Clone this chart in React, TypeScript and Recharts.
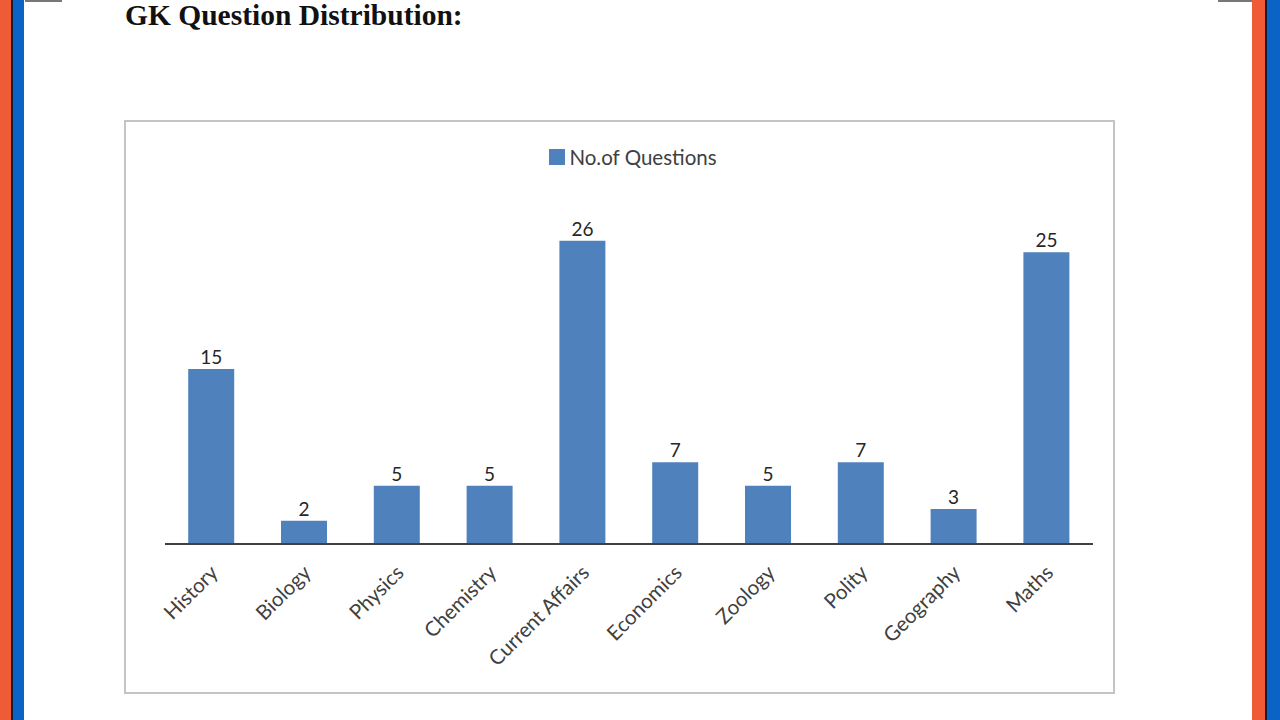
import React from "react";
import { BarChart, Bar, XAxis, YAxis, LabelList, Legend } from "recharts";

const subjects = [
  "History",
  "Biology",
  "Physics",
  "Chemistry",
  "Current Affairs",
  "Economics",
  "Zoology",
  "Polity",
  "Geography",
  "Maths",
];
const questionCounts = [15, 2, 5, 5, 26, 7, 5, 7, 3, 25];
const seriesName = "No.of Questions";
const pageTitle = "GK Question Distribution:";

const data = subjects.map((subject, i) => ({ subject, count: questionCounts[i] }));

const BAR_COLOR = "#4f81bd";
const TEXT_COLOR = "#404040";
const FONT = "Lato, 'Open Sans', sans-serif";

const ORANGE = "#ef5a37";
const BLUE = "#0b63c5";

function SlantedTick(props: any) {
  const { x, y, payload } = props;
  return (
    <g transform={`translate(${x + 3},${y + 17})`}>
      <text
        x={0}
        y={0}
        dy={7}
        textAnchor="end"
        transform="rotate(-45)"
        fill={TEXT_COLOR}
        fontSize={20.5}
        fontFamily={FONT}
      >
        {payload.value}
      </text>
    </g>
  );
}

function LegendContent() {
  return (
    <div
      style={{
        display: "flex",
        alignItems: "center",
        justifyContent: "center",
        fontFamily: FONT,
        fontSize: 20.5,
        color: TEXT_COLOR,
        height: 21,
      }}
    >
      <span
        style={{
          display: "inline-block",
          width: 16,
          height: 16,
          background: BAR_COLOR,
          marginRight: 4,
        }}
      />
      <span>{seriesName}</span>
    </div>
  );
}

export default function App() {
  return (
    <div
      style={{
        position: "absolute",
        left: 0,
        top: 0,
        width: 1280,
        height: 720,
        background: "#ffffff",
        overflow: "hidden",
      }}
    >
      {/* side stripes */}
      <div style={{ position: "absolute", left: 0, top: 0, width: 11, height: 720, background: ORANGE }} />
      <div style={{ position: "absolute", left: 11, top: 0, width: 2, height: 720, background: "#1a1a2a" }} />
      <div style={{ position: "absolute", left: 13, top: 0, width: 11, height: 720, background: BLUE }} />
      <div style={{ position: "absolute", left: 25, top: 0, width: 37, height: 2, background: "#777" }} />

      <div style={{ position: "absolute", left: 1218, top: 0, width: 34, height: 2, background: "#777" }} />
      <div style={{ position: "absolute", left: 1252, top: 0, width: 13, height: 720, background: ORANGE }} />
      <div style={{ position: "absolute", left: 1265, top: 0, width: 2, height: 720, background: "#1a1a2a" }} />
      <div style={{ position: "absolute", left: 1267, top: 0, width: 13, height: 720, background: BLUE }} />

      <div
        style={{
          position: "absolute",
          left: 125,
          top: -2,
          fontFamily: "'Liberation Serif', 'Times New Roman', serif",
          fontWeight: "bold",
          fontSize: 29.5,
          lineHeight: "34px",
          color: "#111",
          whiteSpace: "nowrap",
        }}
      >
        {pageTitle}
      </div>

      <div
        style={{
          position: "absolute",
          left: 124,
          top: 120,
          width: 991,
          height: 574,
          boxSizing: "border-box",
          border: "2px solid #c4c4c4",
        }}
      />

      <div style={{ position: "absolute", left: 124, top: 120 }}>
        <BarChart
          width={991}
          height={574}
          data={data}
          margin={{ top: 53, right: 22, left: 41, bottom: 0 }}
          barCategoryGap="25%"
        >
          <XAxis
            dataKey="subject"
            height={150}
            interval={0}
            tickLine={false}
            axisLine={{ stroke: "#404040", strokeWidth: 2 }}
            tick={<SlantedTick />}
          />
          <YAxis hide domain={[0, 30]} />
          <Legend
            verticalAlign="top"
            content={<LegendContent />}
            wrapperStyle={{ top: 26, left: 45, width: 928 }}
          />
          <Bar dataKey="count" name={seriesName} fill={BAR_COLOR} isAnimationActive={false}>
            <LabelList
              dataKey="count"
              position="top"
              offset={5}
              fill="#262626"
              fontSize={19}
              fontFamily={FONT}
            />
          </Bar>
        </BarChart>
      </div>
    </div>
  );
}
